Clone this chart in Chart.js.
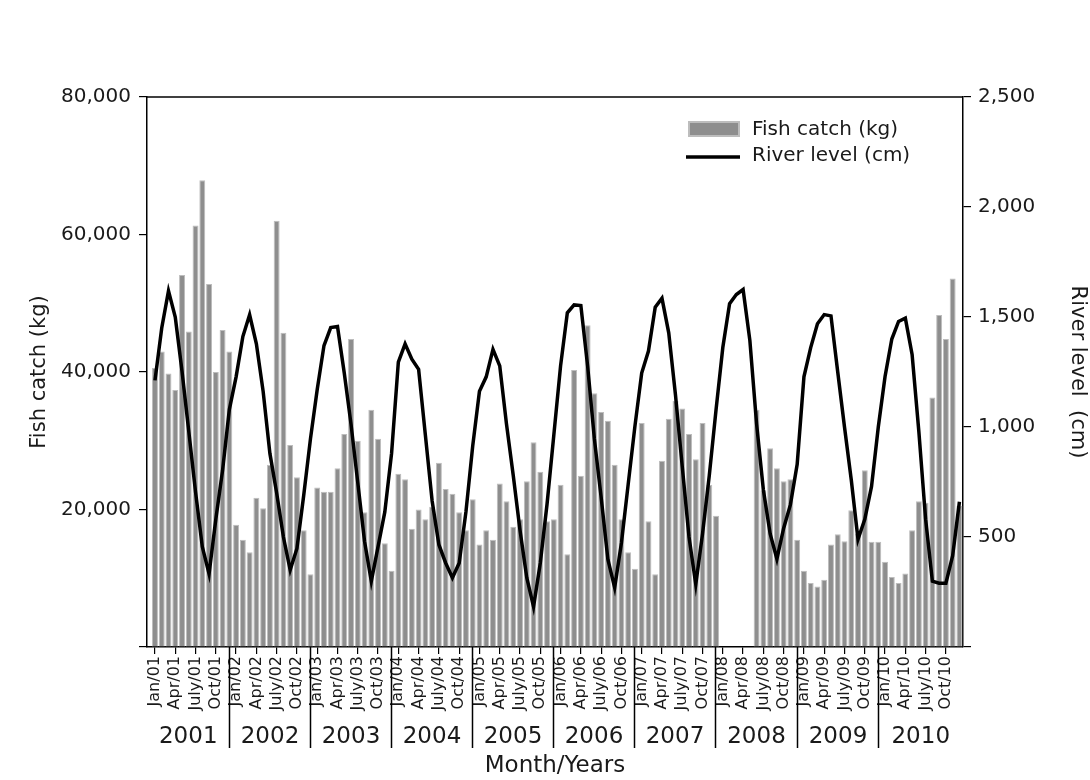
<!DOCTYPE html>
<html>
<head>
<meta charset="utf-8">
<script src="https://cdn.jsdelivr.net/npm/chart.js@4.4.1/dist/chart.umd.min.js"></script>
<style>
  html, body { margin: 0; padding: 0; background: #fff; }
</style>
</head>
<body>
<canvas id="chart" width="1090" height="780"></canvas>
<script>
'use strict';

// 年と月ラベル
var years = ["2001", "2002", "2003", "2004", "2005", "2006", "2007", "2008", "2009", "2010"];
var monthTicks = ["Jan", "", "", "Apr", "", "", "July", "", "", "Oct", "", ""];

// 漁獲量 (kg) Jan/01 - Dec/10, null = no data
var fishCatch = [
    40600, 43000, 39800, 37400, 54100, 45900, 61300, 67900, 52800, 40000, 46100, 43000,
    17800, 15600, 13800, 21700, 20200, 26500, 62000, 45700, 29400, 24700, 17000, 10600,
    23200, 22600, 22600, 26000, 31000, 44800, 30000, 19600, 34500, 30300, 15100, 11100,
    25200, 24400, 17200, 20000, 18600, 20400, 26800, 23000, 22300, 19600, 17000, 21500,
    14900, 17000, 15600, 23800, 21200, 17500, 18600, 24100, 29800, 25500, 18300, 18600,
    23600, 13500, 40300, 24900, 46800, 36900, 34200, 32900, 26500, 18600, 13800, 11400,
    32600, 18300, 10600, 27100, 33200, 35800, 34700, 31000, 27300, 32600, 23600, 19100,
    null, null, null, null, null, 34500, 22800, 28900, 26000, 24100, 24400, 15600,
    11100, 9300, 8800, 9800, 14900, 16400, 15400, 19900, 16500, 25700, 15300, 15300,
    12400, 10200, 9300, 10700, 17000, 21200, 21000, 36300, 48300, 44800, 53600, 20500
];

// 河川水位 (cm)
var riverLevel = [
    1212, 1450, 1619, 1500, 1253, 980, 705, 456, 332, 581, 803, 1079,
    1228, 1411, 1510, 1378, 1162, 880, 700, 500, 350, 448, 689, 946,
    1170, 1370, 1452, 1457, 1245, 1013, 747, 481, 299, 456, 614, 880,
    1295, 1378, 1308, 1262, 963, 664, 465, 382, 315, 382, 614, 913,
    1162, 1228, 1353, 1278, 1013, 780, 531, 315, 183, 382, 650, 963,
    1278, 1519, 1555, 1552, 1278, 946, 681, 398, 270, 473, 739, 1004,
    1245, 1345, 1544, 1585, 1428, 1145, 820, 500, 285, 515, 780, 1079,
    1361, 1560, 1602, 1625, 1394, 1013, 714, 515, 400, 540, 647, 830,
    1228, 1361, 1469, 1511, 1505, 1250, 1000, 760, 490, 580, 730, 1000,
    1230, 1400, 1480, 1495, 1330, 979, 581, 299, 290, 290, 415, 660
];

var catchTicks = [0, 20000, 40000, 60000, 80000];
var levelTicks = [0, 500, 1000, 1500, 2000, 2500];

var FONT = '"DejaVu Sans", "Liberation Sans", sans-serif';
var TEXT = '#1a1a1a';

function fmt(v) {
    return v === 0 ? '' : v.toLocaleString('en-US');
}

function monthLabel(i) {
    var m = monthTicks[i % 12];
    if (!m) return '';
    return m + '/' + years[Math.floor(i / 12)].slice(2);
}

var catchPoints = fishCatch.map(function(v, i) { return { x: i, y: v }; });
var levelPoints = riverLevel.map(function(v, i) { return { x: i, y: v }; });

// 枠の上辺・年の区切り・凡例
var framePlugin = {
    id: 'frame',
    afterDraw: function(chart) {
        var c = chart.ctx;
        var area = chart.chartArea;
        var xs = chart.scales.x;
        c.save();
        c.strokeStyle = '#000';
        c.lineWidth = 1.5;
        c.beginPath();
        c.moveTo(area.left, area.top);
        c.lineTo(area.right, area.top);
        c.stroke();

        var edges = [area.left];
        for (var k = 1; k < years.length; k++) {
            edges.push(Math.round(xs.getPixelForValue(12 * k - 1.1)) + 0.5);
        }
        edges.push(area.right);
        c.beginPath();
        for (k = 1; k < years.length; k++) {
            c.moveTo(edges[k], area.bottom);
            c.lineTo(edges[k], area.bottom + 101);
        }
        c.stroke();

        c.fillStyle = TEXT;
        c.font = '23px ' + FONT;
        c.textAlign = 'center';
        c.textBaseline = 'middle';
        for (k = 0; k < years.length; k++) {
            c.fillText(years[k], (edges[k] + edges[k + 1]) / 2, area.bottom + 90);
        }

        // 凡例
        var bar = chart.data.datasets[1];
        var line = chart.data.datasets[0];
        c.fillStyle = bar.backgroundColor;
        c.fillRect(688, 121, 52, 16);
        c.strokeStyle = bar.borderColor;
        c.lineWidth = 2;
        c.strokeRect(689, 122, 50, 14);
        c.strokeStyle = line.borderColor;
        c.lineWidth = 3.5;
        c.beginPath();
        c.moveTo(686, 157);
        c.lineTo(740, 157);
        c.stroke();
        c.fillStyle = TEXT;
        c.font = '20px ' + FONT;
        c.textAlign = 'left';
        c.fillText(bar.label, 752, 130);
        c.fillText(line.label, 752, 156);
        c.restore();
    }
};

var ctx = document.getElementById('chart').getContext('2d');
var chart = new Chart(ctx, {
    type: 'bar',
    data: {
        datasets: [{
            type: 'line',
            label: 'River level (cm)',
            data: levelPoints,
            yAxisID: 'y2',
            borderColor: '#000',
            borderWidth: 3.5,
            pointRadius: 0,
            tension: 0,
            fill: false,
            order: 0
        }, {
            type: 'bar',
            label: 'Fish catch (kg)',
            data: catchPoints,
            yAxisID: 'y',
            backgroundColor: '#8e8e8e',
            borderColor: '#bdbdbd',
            borderWidth: 1,
            barPercentage: 0.88,
            categoryPercentage: 1,
            order: 1
        }]
    },
    options: {
        responsive: false,
        animation: false,
        layout: { padding: { top: 97, left: 0, right: 0, bottom: 0 } },
        plugins: {
            legend: { display: false },
            tooltip: { enabled: false }
        },
        scales: {
            x: {
                type: 'linear',
                min: -1.18,
                max: 119.53,
                offset: false,
                ticks: {
                    stepSize: 3,
                    includeBounds: false,
                    autoSkip: false,
                    minRotation: 90,
                    maxRotation: 90,
                    padding: 2,
                    color: TEXT,
                    font: { family: FONT, size: 16 },
                    callback: function(value) { return monthLabel(value); }
                },
                grid: { drawOnChartArea: false, offset: false, tickLength: 7, color: '#000', lineWidth: 1.2 },
                border: { color: '#000', width: 1.5 },
                title: {
                    display: true,
                    text: 'Month/Years',
                    color: TEXT,
                    font: { family: FONT, size: 23 },
                    padding: { top: 0, bottom: 0 }
                },
                afterFit: function(s) { s.height = 133; }
            },
            y: {
                position: 'left',
                min: catchTicks[0],
                max: catchTicks[catchTicks.length - 1],
                ticks: {
                    stepSize: catchTicks[1] - catchTicks[0],
                    padding: 8,
                    color: TEXT,
                    font: { family: FONT, size: 20 },
                    callback: function(value) { return fmt(value); }
                },
                grid: { drawOnChartArea: false, tickLength: 8, color: '#000', lineWidth: 1.2 },
                border: { color: '#000', width: 1.5 },
                title: {
                    display: true,
                    text: 'Fish catch (kg)',
                    color: TEXT,
                    font: { family: FONT, size: 21 },
                    padding: { top: 27, bottom: 0 }
                },
                afterFit: function(s) { s.width = 147; }
            },
            y2: {
                position: 'right',
                min: levelTicks[0],
                max: levelTicks[levelTicks.length - 1],
                ticks: {
                    stepSize: levelTicks[1] - levelTicks[0],
                    padding: 7,
                    color: TEXT,
                    font: { family: FONT, size: 20 },
                    callback: function(value) { return fmt(value); }
                },
                grid: { drawOnChartArea: false, tickLength: 8, color: '#000', lineWidth: 1.2 },
                border: { color: '#000', width: 1.5 },
                title: {
                    display: true,
                    text: 'River level  (cm)',
                    color: TEXT,
                    font: { family: FONT, size: 21 },
                    padding: { top: 0, bottom: 0 }
                },
                afterFit: function(s) { s.width = 127; }
            }
        }
    },
    plugins: [framePlugin]
});
</script>
</body>
</html>
